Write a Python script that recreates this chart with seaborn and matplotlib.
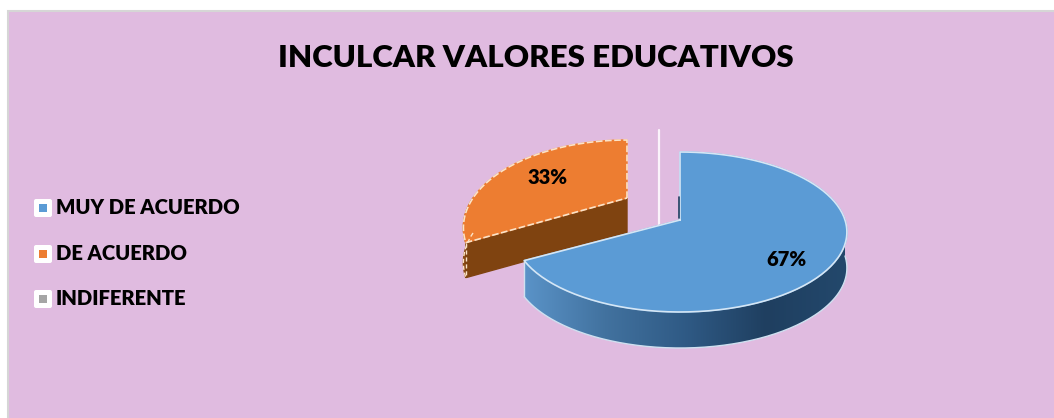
import numpy as np
import seaborn as sns
import matplotlib.pyplot as plt
from matplotlib.patches import Polygon, Rectangle, FancyBboxPatch

TITLE = "INCULCAR VALORES EDUCATIVOS"
categories = ["MUY DE ACUERDO", "DE ACUERDO", "INDIFERENTE"]
values = [67, 33, 0]
colors = ["#5b9bd5", "#ed7d31", "#a5a5a5"]

W, H = 1054, 418
BG = "#e0bbe0"

sns.set_theme(style="white")
plt.rcParams['font.family'] = ['Lato', 'DejaVu Sans']


def Y(y):
    # picture rows run downwards, the axes upwards
    return H - y


def warp(u, v, cx, cy, rx, ry, b):
    # tilted disc in perspective, u and v on the unit circle
    s = 1 / (1 + b * v)
    return cx + rx * u * s, cy + ry * v * s


def arc(t1, t2, geo):
    t = np.radians(np.linspace(t1, t2, 160))
    return warp(np.cos(t), np.sin(t), *geo)


def fill_gradient(ax, x, y, palette, zorder):
    poly = Polygon(np.c_[x, y], closed=True, transform=ax.transData, fc="none", ec="none")
    ax.add_patch(poly)
    grad = np.array(sns.blend_palette(palette, 256))[None, :, :]
    im = ax.imshow(grad, extent=(x.min(), x.max(), y.min(), y.max()), aspect="auto", zorder=zorder)
    im.set_clip_path(poly)


fig = plt.figure(figsize=(W / 100, H / 100), dpi=100, facecolor="white")
ax = fig.add_axes([0, 0, 1, 1])

# the pie gives the angles of the slices, the tilt is put on afterwards
wedges, _ = ax.pie(values, colors=colors, startangle=90, counterclock=False,
                   center=(680, Y(220)), radius=167)
for w in wedges:
    w.set_visible(False)
ax.axis("off")

ax.add_patch(Rectangle((8, -10), 1060, Y(11) + 10, fc=BG, ec="#d6d6d6", lw=1.5, zorder=0))

blue_geo = (680, Y(220), 165, 78.2, 0.15)
orange_geo = (627, Y(198), 154, 77.6, 0.338)
blue_depth, orange_depth = 36, 35
EDGE_BLUE = "#d5e6f5"
EDGE_ORANGE = "#fbe3c8"

# orange slice, moved out to the back; theta1 is the top, theta2 the left tip
o = wedges[1]
ox, oy = arc(o.theta1, o.theta2, orange_geo)
ax_, ay_ = orange_geo[:2]
tip_x, tip_y = ox[-1], oy[-1]
sx, sy = arc(-180, o.theta2, orange_geo)
ax.fill(np.r_[sx, sx[::-1]], np.r_[sy, sy[::-1] - orange_depth], color="#8a4a14", zorder=2)
ax.fill([ax_, tip_x, tip_x, ax_], [ay_, tip_y, tip_y - orange_depth, ay_ - orange_depth],
        color="#7f4310", zorder=2)
ax.fill(np.r_[ax_, ox], np.r_[ay_, oy], color=colors[1], zorder=3)
ax.plot(np.r_[ax_, ox, ax_], np.r_[ay_, oy, ay_], color=EDGE_ORANGE,
        lw=1.2, ls=(0, (4, 1.5)), zorder=4)
ax.plot(sx, sy - orange_depth, color=EDGE_ORANGE, lw=1, ls=(0, (3, 2)), zorder=4)
ax.plot([tip_x, tip_x], [tip_y, tip_y - orange_depth], color=EDGE_ORANGE, lw=1,
        ls=(0, (3, 2)), zorder=4)

# white slit left behind by the moved slice
ax.plot([659, 659], [Y(130), Y(225)], color="#fbf3fb", lw=1.6, zorder=3)

# blue slice, theta1 is the left tip, theta2 the top
w = wedges[0]
bx, by = arc(w.theta1, w.theta2, blue_geo)
cx, cy = blue_geo[:2]
fx, fy = arc(w.theta1, 0, blue_geo)
fill_gradient(ax, np.r_[fx, fx[::-1]], np.r_[fy, fy[::-1] - blue_depth],
              ["#5a93c8", "#42729f", "#2f5a85", "#1f3f60", "#23486c"], 5)
ax.fill(np.r_[cx, bx], np.r_[cy, by], color=colors[0], zorder=6)
ax.plot(np.r_[cx, bx, cx], np.r_[cy, by, cy], color=EDGE_BLUE, lw=1.2, zorder=7)
ax.plot(fx, fy - blue_depth, color="#cfe0f0", lw=1, zorder=7)
ax.plot([fx[0], fx[0]], [fy[0], fy[0] - blue_depth], color="#cfe0f0", lw=1, zorder=7)
ax.plot([cx - 1, cx - 1], [cy + 2, cy + 23], color="#1f3f60", lw=1.2, zorder=7)
ax.set_aspect("auto")
ax.set_xlim(0, W)
ax.set_ylim(0, H)

# percentage labels
total = sum(values)
ax.text(786, Y(259), f"{values[0] / total:.0%}", ha="center", va="center",
        fontsize=14.5, fontweight="heavy", color="black", zorder=8)
ax.text(548, Y(177), f"{values[1] / total:.0%}", ha="center", va="center",
        fontsize=14.5, fontweight="heavy", color="black", zorder=8)

ax.text(536, Y(58), TITLE, ha="center", va="center", fontsize=22.5,
        fontweight="heavy", color="black")

# legend
for name, col, y in zip(categories, colors, [208, 254, 299]):
    ax.add_patch(FancyBboxPatch((34, Y(y) - 9), 18, 18, boxstyle="round,pad=0,rounding_size=2",
                                fc="white", ec="none", zorder=2))
    ax.add_patch(Rectangle((39, Y(y) - 4), 8, 8, fc=col, ec="none", zorder=3))
    ax.text(56, Y(y) + 0.5, name, ha="left", va="center", fontsize=14.6,
            fontweight="heavy", color="black")

fig.savefig("out.png", dpi=100, facecolor="white")
